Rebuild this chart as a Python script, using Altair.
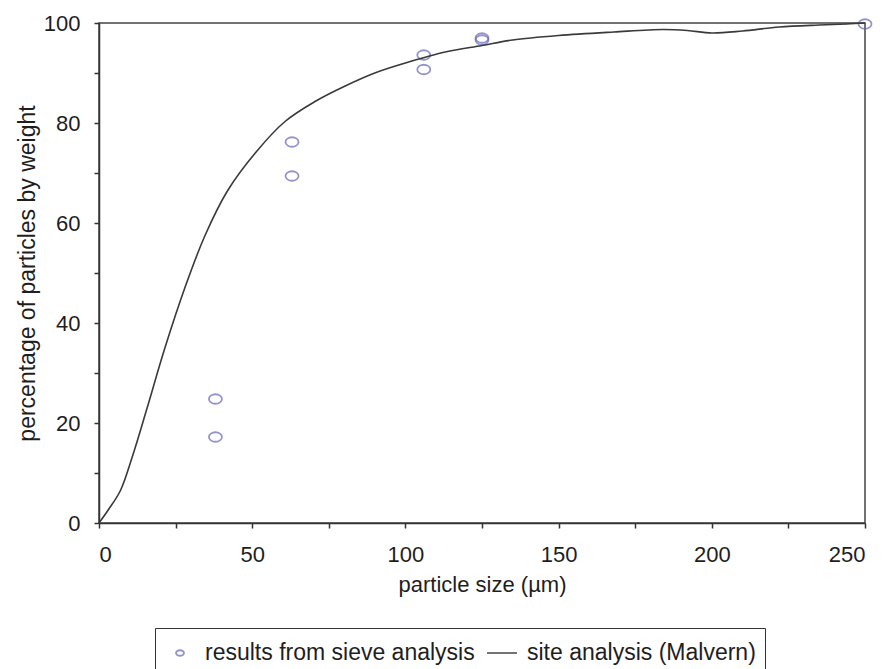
import altair as alt
import pandas as pd

# Sieve analysis results
sieve_size = [38, 38, 63, 63, 106, 106, 125, 125, 250]
sieve_pct = [24.8, 17.2, 76.2, 69.4, 93.6, 90.7, 97.0, 96.6, 99.8]

# Malvern site analysis curve
malvern_size = [0, 3, 7, 11, 15.7, 21.5, 28, 34.6, 42, 51, 60.7, 70.5, 80, 90, 100,
                113, 125, 135, 150, 168, 184, 192, 200, 210, 222, 235, 244, 250]
malvern_pct = [0, 2.6, 6.5, 13.5, 23, 35, 47, 57.5, 66.5, 74, 80.3, 84.3, 87.3, 90, 92,
               94.2, 95.5, 96.6, 97.5, 98.2, 98.7, 98.5, 98.0, 98.4, 99.2, 99.6, 99.8, 100]

series_names = ["results from sieve analysis", "site analysis (Malvern)"]

sieve_df = pd.DataFrame({"size": sieve_size, "pct": sieve_pct, "series": series_names[0]})
malvern_df = pd.DataFrame({"size": malvern_size, "pct": malvern_pct, "series": series_names[1]})

FONT = "Liberation Sans"
TXT = "#1e1e1e"

# small ellipse (unit coordinates, scaled by the mark size)
ellipse = "M-0.26,0A0.26,0.19 0 1,0 0.26,0A0.26,0.19 0 1,0 -0.26,0Z"

color_scale = alt.Scale(domain=series_names, range=["#6868b8", "#3a3a3a"])
shape_scale = alt.Scale(domain=series_names, range=[ellipse, "stroke"])

x_enc = alt.X(
    "size:Q",
    title="particle size (µm)",
    scale=alt.Scale(domain=[0, 250], nice=False),
    axis=alt.Axis(
        values=[0, 25, 50, 75, 100, 125, 150, 175, 200, 225, 250],
        labelExpr="datum.value % 50 == 0 ? datum.label : ''",
        grid=False,
        tickSize=5,
        labelPadding=16,
        titlePadding=9,
    ),
)
y_enc = alt.Y(
    "pct:Q",
    title="percentage of particles by weight",
    scale=alt.Scale(domain=[0, 100], nice=False),
    axis=alt.Axis(
        values=[0, 10, 20, 30, 40, 50, 60, 70, 80, 90, 100],
        labelExpr="datum.value % 20 == 0 ? datum.label : ''",
        grid=False,
        tickSize=5,
        labelPadding=14,
        titlePadding=4,
        titleFontSize=23,
    ),
)

legend = alt.Legend(
    title=None,
    orient="none",
    legendX=56,
    legendY=605,
    direction="horizontal",
    strokeColor="#333333",
    padding=9,
    labelFont=FONT,
    labelFontSize=23,
    labelColor=TXT,
    labelOffset=9,
    symbolSize=900,
    symbolStrokeWidth=2,
    symbolFillColor="transparent",
    columnPadding=8,
    labelLimit=500,
)

points = alt.Chart(sieve_df).mark_point(filled=False, size=2500, strokeWidth=1.8).encode(
    x=x_enc,
    y=y_enc,
    color=alt.Color("series:N", scale=color_scale, legend=legend),
    shape=alt.Shape("series:N", scale=shape_scale, legend=legend),
)

line = alt.Chart(malvern_df).mark_line(strokeWidth=1.6, interpolate="catmull-rom").encode(
    x=x_enc,
    y=y_enc,
    color=alt.Color("series:N", scale=color_scale, legend=legend),
)

chart = (
    alt.layer(points, line)
    .properties(
        width=766,
        height=500,
        autosize=alt.AutoSizeParams(type="none"),
        padding={"left": 99, "top": 23, "right": 17, "bottom": 146},
        background="white",
    )
    .configure_view(stroke="#444444", strokeWidth=1.5)
    .configure_axis(
        domainColor="#333333",
        domainWidth=1.5,
        tickColor="#333333",
        tickWidth=1.5,
        labelFont=FONT,
        labelFontSize=22,
        labelColor=TXT,
        titleFont=FONT,
        titleFontSize=22,
        titleFontWeight="normal",
        titleColor=TXT,
    )
)

chart.save("out.html", embed_options={"renderer": "svg", "actions": False})
